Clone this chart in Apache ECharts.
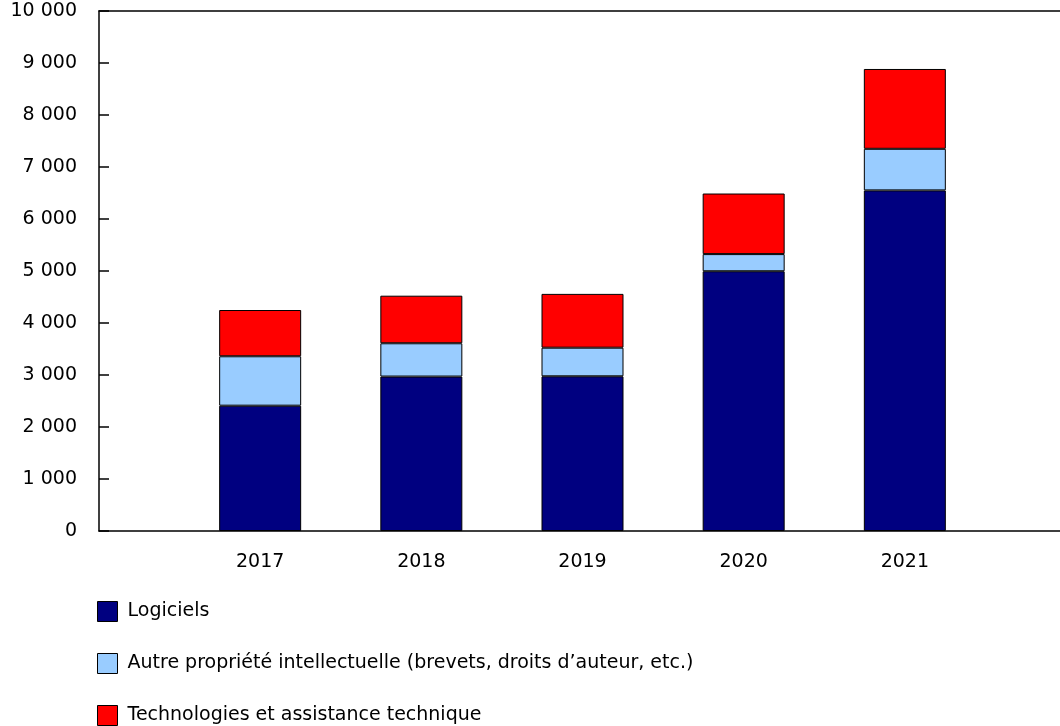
<!DOCTYPE html>
<html>
<head>
<meta charset="utf-8">
<script src="https://cdn.jsdelivr.net/npm/echarts@6/dist/echarts.min.js"></script>
<style>html,body{margin:0;padding:0;background:#fff;overflow:hidden;width:1060px;height:726px}#c{width:1069px;height:726px}</style>
</head>
<body>
<div id="c"></div>
<script>
const categories = ['', '2017', '2018', '2019', '2020', '2021', ''];
const logiciels = ['-', 2410, 2970, 2975, 4995, 6550, '-'];
const autrePI = ['-', 950, 640, 550, 330, 800, '-'];
const technologies = ['-', 890, 915, 1035, 1165, 1535, '-'];
const seriesNames = ['Logiciels', 'Autre propriété intellectuelle (brevets, droits d\u2019auteur, etc.)', 'Technologies et assistance technique'];
const colors = ['#000080', '#99CCFF', '#FF0000'];

const FONT = 'DejaVu Sans';
const FS = 19;
function fmt(v) { return String(v).replace(/\B(?=(\d{3})+(?!\d))/g, ' '); }

const chart = echarts.init(document.getElementById('c'), null, {renderer: 'canvas'});
const mk = (name, data, color) => ({
  name, type: 'bar', stack: 'total', data, barWidth: 82,
  itemStyle: {color, borderColor: '#000', borderWidth: 1},
  emphasis: {disabled: true}
});
chart.setOption({
  animation: false,
  textStyle: {fontFamily: FONT, color: '#000'},
  grid: {left: 99, top: 11, right: 0, bottom: 195, containLabel: false},
  xAxis: [{
    type: 'category', data: categories, boundaryGap: false,
    axisLine: {lineStyle: {color: '#000', width: 1.5}},
    axisTick: {show: false},
    axisLabel: {color: '#000', fontFamily: FONT, fontSize: FS, margin: 22},
    splitLine: {show: false}
  }, {
    type: 'category', data: categories, boundaryGap: false, position: 'top',
    axisLine: {show: true, lineStyle: {color: '#000', width: 1.5}},
    axisTick: {show: false}, axisLabel: {show: false}, splitLine: {show: false}
  }],
  yAxis: {
    type: 'value', min: 0, max: 10000, interval: 1000,
    axisLine: {show: true, lineStyle: {color: '#000', width: 1.5}},
    axisTick: {show: true, inside: true, length: 10, lineStyle: {color: '#000', width: 1.5}},
    axisLabel: {color: '#000', fontFamily: FONT, fontSize: FS, margin: 22, formatter: fmt},
    splitLine: {show: false}
  },
  legend: {
    orient: 'vertical', left: 97, top: 601, padding: 0,
    itemWidth: 20, itemHeight: 20, itemGap: 31,
    icon: 'rect', selectedMode: false,
    itemStyle: {borderColor: '#000', borderWidth: 1},
    textStyle: {color: '#000', fontFamily: FONT, fontSize: FS, padding: [0, 0, 0, 5]},
    data: seriesNames
  },
  series: [
    mk(seriesNames[0], logiciels, colors[0]),
    mk(seriesNames[1], autrePI, colors[1]),
    mk(seriesNames[2], technologies, colors[2])
  ]
});
</script>
</body>
</html>
